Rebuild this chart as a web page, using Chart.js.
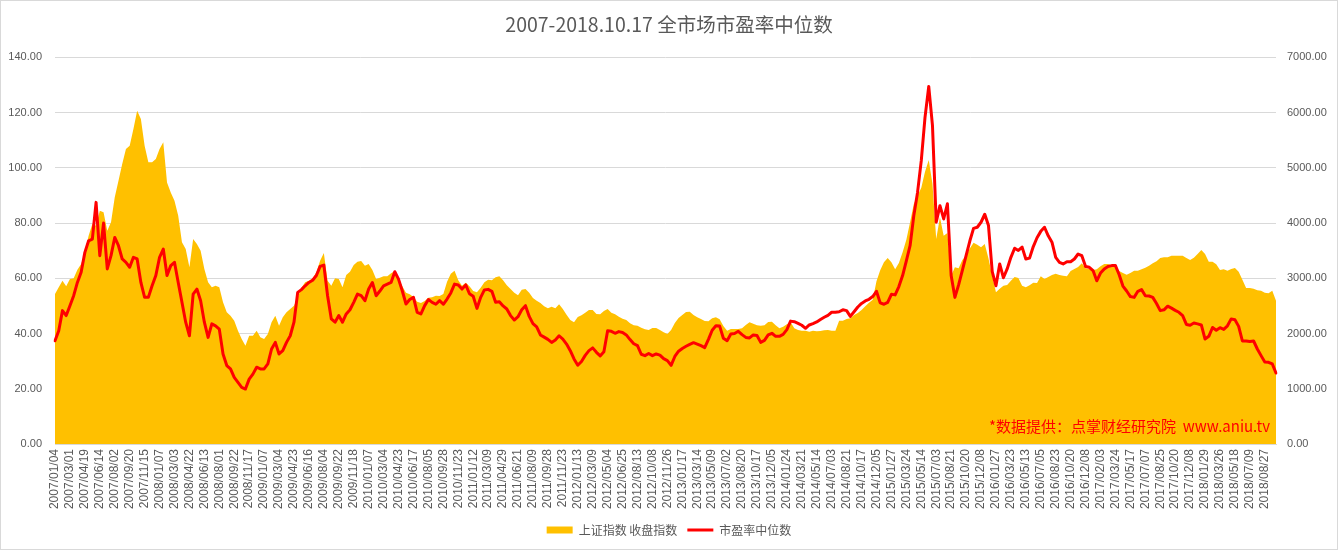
<!DOCTYPE html>
<html><head><meta charset="utf-8">
<script src="https://cdn.jsdelivr.net/npm/chart.js@4.4.1/dist/chart.umd.min.js"></script>
<style>html,body{margin:0;padding:0;background:#fff;}</style>
</head><body>
<canvas id="c" width="1338" height="550" style="width:1338px;height:550px;display:block"></canvas>
<script>
const titleText = '2007-2018.10.17 全市场市盈率中位数';
const creditText = '*数据提供：点掌财经研究院  www.aniu.tv';
const indexName = '上证指数 收盘指数';
const peName = '市盈率中位数';

const tickLabels = ['2007/01/04','2007/03/01','2007/04/19','2007/06/14','2007/08/02','2007/09/20','2007/11/15',
'2008/01/07','2008/03/03','2008/04/22','2008/06/13','2008/08/01','2008/09/22','2008/11/17',
'2009/01/07','2009/03/04','2009/04/23','2009/06/16','2009/08/04','2009/09/22','2009/11/18',
'2010/01/07','2010/03/04','2010/04/23','2010/06/17','2010/08/05','2010/09/28','2010/11/23',
'2011/01/12','2011/03/09','2011/04/29','2011/06/21','2011/08/09','2011/09/28','2011/11/23',
'2012/01/13','2012/03/09','2012/05/04','2012/06/25','2012/08/13','2012/10/08','2012/11/26',
'2013/01/17','2013/03/14','2013/05/09','2013/07/02','2013/08/20','2013/10/17','2013/12/05',
'2014/01/24','2014/03/21','2014/05/14','2014/07/03','2014/08/21','2014/10/17','2014/12/05',
'2015/01/27','2015/03/24','2015/05/14','2015/07/03','2015/08/21','2015/10/20','2015/12/08',
'2016/01/27','2016/03/23','2016/05/13','2016/07/05','2016/08/23','2016/10/20','2016/12/08',
'2017/02/03','2017/03/24','2017/05/17','2017/07/07','2017/08/25','2017/10/20','2017/12/08',
'2018/01/29','2018/03/26','2018/05/18','2018/07/09','2018/08/27'];

// 上证指数 收盘指数 (right axis)
const indexClose = [
2716,2836,2957,2855,2987,3000,3156,3259,3470,3772,3983,3953,4225,4194,3862,4013,4466,4768,5069,5341,
5401,5703,6035,5884,5401,5100,5100,5160,5341,5462,4737,4556,4406,4134,3651,3530,3199,3712,3621,3500,
3168,2927,2836,2867,2836,2565,2384,2323,2233,2052,1901,1780,1961,1961,2052,1931,1901,1992,2203,2323,
2142,2293,2384,2444,2505,2655,
2830,2927,2957,3000,3108,3319,3458,2957,2867,3000,2987,2836,3060,3120,3241,3301,3313,3229,3259,3150,
2987,3011,3036,3036,3090,3132,2987,2855,2740,2710,2661,2577,2553,2589,2649,2655,2686,2680,2716,2939,
3084,3138,2963,2867,2921,2855,2770,2746,2830,2927,2975,2963,3018,3036,2963,2873,2806,2740,2692,2794,
2806,2740,2643,2595,2553,2492,
2456,2486,2456,2529,2444,2342,2245,2203,2299,2329,2378,2426,2426,2354,2348,2408,2444,2378,2348,2305,
2269,2245,2185,2148,2142,2106,2076,2064,2100,2100,2064,2022,1992,2064,2191,2281,2336,2390,2396,2336,
2293,2263,2227,2221,2275,2293,2257,2136,2052,2082,2082,2082,2094,2154,2203,2179,2148,2142,2148,2209,
2215,2148,2094,2124,2167,2203,
2094,2064,2052,2052,2034,2052,2040,2046,2058,2064,2052,2052,2233,2233,2263,2275,2336,2372,2426,2492,
2559,2613,2945,3144,3289,3368,3289,3162,3277,3470,3699,4013,4345,4496,4641,4931,5142,4707,3712,4104,
3772,3820,3048,3199,3180,3331,3410,3542,3645,3609,3561,3621,3361,3048,2746,2812,2867,2879,2957,3024,
3005,2867,2836,2873,2921,
2915,3036,2987,3024,3060,3084,3060,3048,3036,3132,3168,3205,3271,3180,3168,3150,3162,3217,3259,3259,
3235,3229,3132,3096,3066,3096,3138,3138,3162,3193,3229,3271,3307,3368,3380,3380,3410,3410,3410,3410,
3368,3331,3374,3440,3512,3440,3301,3301,3253,3150,3162,3138,3168,3186,3120,2975,2824,2824,2812,2782,
2776,2740,2728,2776,2595];

// 市盈率中位数 (left axis)
const peMedian = [
37.4,41.0,48.3,46.5,50.1,53.7,58.5,62.2,69.4,73.6,74.2,87.5,68.2,80.0,63.4,68.2,74.8,71.8,67.0,65.8,
64.0,67.6,67.0,58.5,53.1,53.1,57.3,61.0,67.6,70.6,61.0,64.6,65.8,58.5,51.3,44.1,39.2,54.3,56.1,51.9,
44.1,38.6,43.5,42.8,41.6,32.6,28.4,27.2,24.1,22.3,20.5,19.9,23.5,25.3,27.8,27.2,27.2,29.0,34.4,36.8,
32.6,33.8,36.8,39.2,44.1,54.9,
55.9,57.3,58.5,59.3,61.0,64.3,64.8,53.7,45.3,44.1,46.5,44.1,47.1,48.6,51.3,54.3,53.7,51.9,56.1,58.5,
53.7,55.4,57.3,57.9,58.5,62.4,59.7,55.5,50.7,52.3,53.1,47.7,47.1,50.1,52.3,51.3,50.6,51.9,50.6,52.5,
54.7,57.9,57.6,56.1,57.6,54.4,53.5,49.1,53.1,55.8,56.0,55.3,51.3,51.5,50.0,48.9,46.5,44.9,46.1,48.6,
50.1,46.2,43.6,42.4,39.5,38.7,
37.9,36.8,37.7,39.2,38.0,36.2,33.8,30.8,28.5,29.9,32.1,33.8,34.8,33.2,31.9,33.4,41.0,40.8,40.1,40.7,
40.4,39.5,37.8,36.3,35.6,32.5,32.0,32.8,32.0,32.6,32.2,30.9,30.2,28.5,31.7,33.6,34.6,35.4,36.1,36.7,
36.2,35.6,34.9,37.9,41.2,42.8,42.7,38.3,37.4,39.8,40.0,40.8,39.6,38.6,38.4,39.5,39.3,36.8,37.5,39.5,
40.1,39.0,39.0,39.7,41.4,44.5,
44.3,43.7,43.0,41.9,43.1,43.6,44.2,45.1,45.9,46.6,47.7,47.7,47.9,48.6,48.3,46.2,47.9,49.6,50.9,51.8,
52.4,53.4,55.3,51.1,50.6,51.3,54.2,54.0,57.0,61.0,66.3,71.8,82.7,91.1,102.6,118.3,129.5,115.3,80.3,86.3,
81.5,87.0,61.0,53.1,57.6,62.9,68.2,73.5,78.1,78.5,80.3,83.2,79.1,62.4,57.3,65.2,60.2,63.4,67.6,70.9,
70.1,71.3,67.0,67.3,71.5,
74.7,77.0,78.5,75.4,73.1,67.6,65.8,65.2,66.0,66.0,67.0,68.8,68.2,64.3,64.0,62.8,59.1,61.9,63.4,64.3,
64.6,64.6,61.3,57.2,55.4,53.4,53.1,55.3,55.9,53.7,53.6,53.1,50.9,48.3,48.6,49.9,49.2,48.4,47.7,46.5,
43.3,43.0,43.8,43.5,43.1,38.0,39.0,42.2,41.2,42.1,41.5,42.8,45.3,45.0,42.6,37.3,37.3,37.1,37.3,34.4,
32.0,29.7,29.6,29.0,25.7];

const POINTS_PER_TICK = 4;
const categories = indexClose.map((_, i) =>
  (i % POINTS_PER_TICK === 0 && tickLabels[i / POINTS_PER_TICK]) ? tickLabels[i / POINTS_PER_TICK] : '');

const GREY = '#595959';
const GRID = '#d9d9d9';

const decorPlugin = {
  id: 'decor',
  afterDatasetsDraw(chart) {
    const {ctx, chartArea} = chart;
    ctx.save();
    ctx.font = '15px "Noto Sans CJK SC", sans-serif';
    ctx.fillStyle = '#FF0000';
    ctx.textAlign = 'right';
    ctx.textBaseline = 'middle';
    ctx.fillText(creditText, chartArea.right - 6, chartArea.bottom - 18);
    ctx.restore();
  },
  afterDraw(chart) {
    const {ctx} = chart;
    ctx.save();
    ctx.strokeStyle = GRID;
    ctx.lineWidth = 1;
    ctx.strokeRect(0.5, 0.5, chart.width - 1, chart.height - 1);
    ctx.restore();
  }
};

new Chart(document.getElementById('c'), {
  data: {
    labels: categories,
    datasets: [
      {
        type: 'line',
        label: indexName,
        data: indexClose,
        yAxisID: 'y1',
        fill: 'origin',
        backgroundColor: '#FFC000',
        borderColor: '#FFC000',
        borderWidth: 0,
        pointRadius: 0,
        tension: 0,
        order: 2,
        pointStyle: 'rect'
      },
      {
        type: 'line',
        label: peName,
        data: peMedian,
        yAxisID: 'y',
        fill: false,
        borderColor: '#FF0000',
        backgroundColor: '#FF0000',
        borderWidth: 3,
        borderJoinStyle: 'round',
        borderCapStyle: 'round',
        pointRadius: 0,
        tension: 0,
        order: 1,
        pointStyle: 'line'
      }
    ]
  },
  options: {
    responsive: false,
    animation: false,
    devicePixelRatio: 1,
    layout: { padding: { left: 0, right: 0, top: 0, bottom: 4 } },
    plugins: {
      title: {
        display: true,
        text: titleText,
        color: GREY,
        font: { family: '"Noto Sans CJK SC", sans-serif', size: 19.5, weight: 'normal' },
        padding: { top: 13, bottom: 21 }
      },
      legend: {
        position: 'bottom',
        labels: {
          usePointStyle: true,
          pointStyleWidth: 26,
          boxHeight: 7,
          padding: 10,
          color: GREY,
          font: { family: '"Noto Sans CJK SC", sans-serif', size: 12 },
          sort: (a, b) => a.datasetIndex - b.datasetIndex
        }
      },
      tooltip: { enabled: false }
    },
    scales: {
      x: {
        type: 'category',
        grid: { display: false, drawTicks: false },
        border: { display: true, color: GRID },
        ticks: {
          autoSkip: false,
          minRotation: 90,
          maxRotation: 90,
          padding: 5,
          color: GREY,
          font: { family: '"Liberation Sans", sans-serif', size: 12 }
        },
        afterFit: (s) => { s.height = 70; }
      },
      y: {
        position: 'left',
        min: 0, max: 140,
        grid: { color: GRID, drawTicks: false },
        border: { display: false },
        ticks: {
          stepSize: 20,
          padding: 13,
          color: GREY,
          font: { family: '"Liberation Sans", sans-serif', size: 11 },
          callback: (v) => Number(v).toFixed(2)
        },
        afterFit: (s) => { s.width = 55; }
      },
      y1: {
        position: 'right',
        min: 0, max: 7000,
        grid: { display: false, drawTicks: false },
        border: { display: false },
        ticks: {
          stepSize: 1000,
          padding: 11,
          color: GREY,
          font: { family: '"Liberation Sans", sans-serif', size: 11 },
          callback: (v) => Number(v).toFixed(2)
        },
        afterFit: (s) => { s.width = 62; }
      }
    }
  },
  plugins: [decorPlugin]
});
</script>
</body></html>
